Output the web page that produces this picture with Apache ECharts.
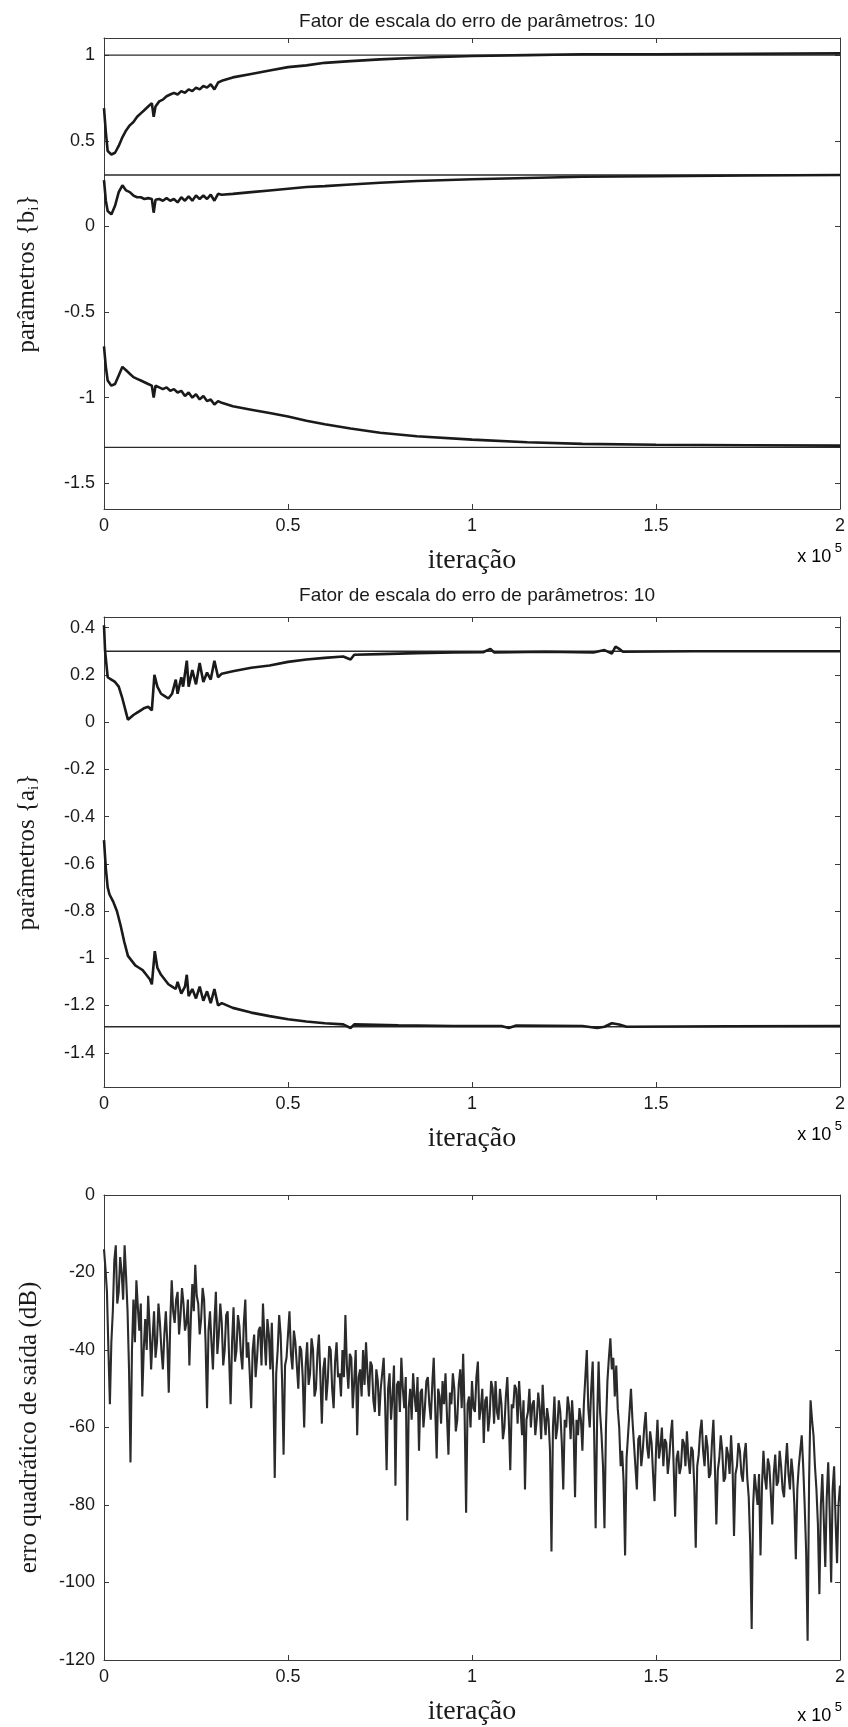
<!DOCTYPE html>
<html>
<head>
<meta charset="utf-8">
<script src="https://cdn.jsdelivr.net/npm/echarts@6/dist/echarts.min.js"></script>
<style>
  html, body { margin: 0; padding: 0; background: #ffffff; }
  #chart { width: 848px; height: 1727px; }
</style>
</head>
<body>
<div id="chart"></div>
<script>
// ---- numerator parameters {b_i} ----
const bIter = [0, 500, 1000, 2000, 3000, 4000, 5000, 6000, 7000, 8000, 9000, 10000, 11000, 12000, 13000, 13500,
  14000, 15000, 16000, 17000, 18000, 19000, 20000, 21000, 22000, 23000, 24000, 25000, 26000, 27000, 28000, 29000,
  30000, 31000, 32000, 35000, 40000, 45000, 50000, 55000, 60000, 67000, 75000, 85000, 100000, 115000, 130000,
  150000, 175000, 200000];
const b0 = [0.69, 0.55, 0.44, 0.42, 0.43, 0.47, 0.52, 0.56, 0.59, 0.61, 0.64, 0.66, 0.68, 0.70, 0.72, 0.64,
  0.70, 0.73, 0.74, 0.76, 0.77, 0.78, 0.77, 0.79, 0.78, 0.80, 0.79, 0.81, 0.80, 0.82, 0.81, 0.83,
  0.80, 0.84, 0.85, 0.87, 0.89, 0.91, 0.93, 0.94, 0.955, 0.965, 0.975, 0.985, 0.995, 1.0, 1.005,
  1.005, 1.008, 1.01];
const b1 = [0.27, 0.15, 0.09, 0.07, 0.12, 0.20, 0.24, 0.21, 0.20, 0.18, 0.17, 0.17, 0.16, 0.165, 0.16, 0.08,
  0.155, 0.16, 0.15, 0.165, 0.15, 0.16, 0.14, 0.17, 0.15, 0.175, 0.15, 0.18, 0.16, 0.18, 0.16, 0.185,
  0.15, 0.19, 0.185, 0.19, 0.20, 0.21, 0.22, 0.23, 0.235, 0.245, 0.255, 0.265, 0.275, 0.283, 0.29,
  0.293, 0.297, 0.30];
const b2 = [-0.70, -0.82, -0.90, -0.93, -0.92, -0.87, -0.82, -0.84, -0.86, -0.88, -0.89, -0.90, -0.91, -0.92, -0.93, -1.00,
  -0.93, -0.94, -0.95, -0.94, -0.96, -0.95, -0.97, -0.96, -0.99, -0.97, -1.00, -0.98, -1.01, -0.99, -1.02, -1.01,
  -1.04, -1.02, -1.03, -1.05, -1.07, -1.09, -1.11, -1.135, -1.155, -1.18, -1.205, -1.225, -1.245, -1.26, -1.27,
  -1.275, -1.278, -1.28];
const bTrue = [1.0, 0.3, -1.29];
const bTicks = [-1.5, -1, -0.5, 0, 0.5, 1];

// ---- denominator parameters {a_i} ----
const a0Iter = [0, 300, 1000, 2000, 3000, 4000, 5000, 6000, 6500, 7000, 8000, 9000, 10000, 11000, 12000, 13000,
  13700, 14500, 15500, 16500, 17500, 18500, 19500, 20000, 21000, 21500, 22500, 23000, 24000, 25000, 26000, 27000,
  28000, 29000, 30000, 31000, 32000, 35000, 40000, 45000, 50000, 55000, 60000, 65000, 67000, 68000, 75000, 85000,
  95000, 103000, 105000, 106000, 120000, 133000, 136000, 138000, 139000, 140000, 141000, 160000, 180000, 200000];
const a0 = [0.41, 0.30, 0.19, 0.18, 0.17, 0.15, 0.10, 0.04, 0.01, 0.015, 0.03, 0.04, 0.05, 0.06, 0.065, 0.05,
  0.20, 0.15, 0.12, 0.11, 0.10, 0.12, 0.18, 0.12, 0.19, 0.15, 0.26, 0.15, 0.22, 0.16, 0.25, 0.17,
  0.21, 0.18, 0.26, 0.19, 0.205, 0.215, 0.23, 0.24, 0.255, 0.265, 0.272, 0.278, 0.265, 0.285, 0.288, 0.292,
  0.295, 0.296, 0.31, 0.295, 0.298, 0.295, 0.305, 0.29, 0.32, 0.31, 0.298, 0.30, 0.30, 0.30];
const a1Iter = [0, 500, 1000, 1500, 2500, 3500, 4500, 5500, 6500, 7500, 8500, 9500, 10500, 11500, 12500, 13000,
  13800, 14500, 15500, 16500, 17500, 18500, 19500, 20000, 21000, 22000, 22500, 23000, 24000, 25000, 26000, 27000,
  28000, 29000, 30000, 31000, 32000, 35000, 40000, 45000, 50000, 55000, 60000, 65000, 67000, 68000, 80000, 95000,
  108000, 110000, 112000, 130000, 134000, 136000, 138000, 140000, 142000, 170000, 200000];
const a1 = [-0.50, -0.62, -0.70, -0.73, -0.76, -0.80, -0.86, -0.93, -0.99, -1.01, -1.03, -1.04, -1.05, -1.07, -1.09, -1.11,
  -0.97, -1.04, -1.07, -1.09, -1.11, -1.12, -1.13, -1.10, -1.15, -1.12, -1.07, -1.16, -1.13, -1.17, -1.12, -1.18,
  -1.14, -1.19, -1.13, -1.20, -1.19, -1.21, -1.23, -1.245, -1.258, -1.268, -1.275, -1.28, -1.295, -1.28, -1.284, -1.287,
  -1.287, -1.295, -1.285, -1.287, -1.295, -1.29, -1.275, -1.28, -1.29, -1.288, -1.287];
const aTrue = [0.3, -1.29];
const aTicks = [-1.4, -1.2, -1, -0.8, -0.6, -0.4, -0.2, 0, 0.2, 0.4];

// ---- output squared error (dB), one sample every 400 iterations ----
const errStep = 400;
const errDb = [
  -14, -19, -25, -40, -54, -38, -30, -17, -13, -28, -25, -16, -20, -27, -13, -21, -30, -45, -69, -40,
  -27, -38, -22, -29, -35, -28, -52, -40, -32, -40, -26, -34, -45, -37, -30, -42, -38, -28, -33, -40,
  -45, -36, -30, -38, -51, -33, -22, -30, -33, -27, -25, -36, -31, -24, -28, -35, -33, -27, -44, -32,
  -23, -30, -18, -26, -28, -36, -32, -24, -27, -38, -55, -35, -30, -38, -45, -33, -25, -41, -36, -28,
  -33, -44, -40, -31, -30, -42, -54, -38, -29, -43, -40, -31, -34, -41, -45, -33, -27, -42, -38, -46,
  -55, -40, -36, -47, -42, -35, -34, -44, -28, -37, -44, -32, -36, -45, -33, -48, -73, -46, -40, -31,
  -36, -48, -67, -44, -42, -36, -30, -41, -45, -35, -38, -44, -50, -39, -40, -47, -60, -44, -38, -49,
  -46, -37, -40, -52, -50, -41, -36, -47, -59, -45, -42, -53, -48, -39, -40, -50, -55, -43, -38, -47,
  -46, -52, -40, -47, -31, -44, -50, -41, -42, -55, -48, -40, -62, -47, -45, -52, -40, -49, -38, -46,
  -52, -43, -44, -53, -56, -45, -48, -57, -50, -46, -42, -54, -71, -50, -46, -58, -52, -44, -75, -49,
  -48, -56, -42, -50, -55, -47, -84, -55, -50, -58, -46, -52, -56, -47, -66, -51, -50, -60, -55, -48,
  -47, -54, -58, -49, -42, -55, -68, -50, -52, -59, -48, -54, -46, -57, -67, -51, -54, -46, -50, -61,
  -58, -49, -45, -55, -41, -57, -82, -54, -52, -60, -48, -55, -56, -47, -43, -58, -55, -50, -64, -53,
  -52, -61, -57, -48, -50, -59, -48, -56, -58, -50, -54, -63, -60, -52, -47, -58, -71, -54, -55, -49,
  -50, -59, -48, -55, -62, -53, -76, -58, -56, -50, -60, -54, -53, -62, -58, -51, -55, -63, -49, -57,
  -62, -55, -58, -66, -92, -60, -52, -63, -60, -53, -56, -64, -76, -58, -60, -52, -55, -63, -53, -60,
  -78, -58, -62, -55, -58, -66, -54, -47, -40, -55, -60, -50, -43, -62, -86, -58, -43, -56, -62, -70,
  -86, -60, -48, -42, -37, -45, -42, -52, -44, -55, -60, -70, -66, -74, -93, -68, -62, -56, -50, -58,
  -64, -70, -76, -63, -62, -70, -66, -60, -56, -65, -68, -61, -64, -72, -79, -66, -58, -68, -65, -60,
  -70, -63, -64, -72, -68, -62, -58, -70, -83, -68, -66, -72, -70, -63, -64, -70, -61, -68, -72, -65,
  -66, -75, -91, -70, -67, -61, -58, -66, -70, -62, -65, -73, -72, -64, -58, -70, -85, -71, -68, -62,
  -66, -74, -73, -65, -67, -72, -62, -70, -88, -72, -70, -64, -66, -72, -74, -67, -64, -73, -78, -90,
  -112, -80, -72, -76, -80, -72, -93, -75, -66, -73, -76, -68, -70, -77, -85, -72, -67, -75, -74, -66,
  -70, -76, -78, -70, -64, -72, -76, -68, -72, -80, -94, -76, -70, -66, -62, -70, -80, -92, -115, -74,
  -53, -58, -62, -70, -76, -85, -103, -80, -72, -84, -96, -78, -69, -82, -100, -76, -70, -84, -95, -80,
  -75
];

// shared axis settings
const xMax = 200000;
const xTickStep = 50000;

const SANS = "'Liberation Sans', Arial, Helvetica, sans-serif";
const SERIF = "'Liberation Serif', 'Times New Roman', Times, serif";
const INK = '#1a1a1a';
const FRAME = '#3a3a3a';

const grids = [
  { left: 104, width: 737, top: 38, height: 471 },
  { left: 104, width: 737, top: 617, height: 470 },
  { left: 104, width: 737, top: 1195, height: 473 }
];

function pairs(xs, ys) { return xs.map((x, i) => [x, ys[i]]); }
function flat(v) { return [[0, v], [xMax, v]]; }
function fmt(v) { return String(Math.round(v * 100) / 100); }

function xAxes(gi) {
  const common = {
    type: 'value', gridIndex: gi, min: 0, max: xMax, interval: xTickStep,
    splitLine: { show: false },
    axisLine: { show: true, onZero: false, lineStyle: { color: FRAME, width: 1 } },
    axisTick: { show: true, inside: true, length: 5, lineStyle: { color: FRAME } }
  };
  return [
    Object.assign({}, common, {
      position: 'bottom',
      axisLabel: { show: true, margin: 8, fontFamily: SANS, fontSize: 18, color: INK,
        formatter: v => fmt(v / 100000) },
      name: 'iteração', nameLocation: 'middle', nameGap: 38,
      nameTextStyle: { fontFamily: SERIF, fontSize: 28, color: INK }
    }),
    Object.assign({}, common, { position: 'top', axisLabel: { show: false } })
  ];
}

function yAxes(gi, range, ticks, name, nameRich) {
  const common = {
    type: 'value', gridIndex: gi, min: range[0], max: range[1],
    splitLine: { show: false },
    axisLine: { show: true, onZero: false, lineStyle: { color: FRAME, width: 1 } },
    axisTick: { show: true, inside: true, length: 5, lineStyle: { color: FRAME } }
  };
  if (ticks) {
    common.axisTick.customValues = ticks;
  } else {
    common.interval = 20;
  }
  const left = Object.assign({}, common, {
    position: 'left',
    axisLabel: { show: true, margin: 9, fontFamily: SANS, fontSize: 18, color: INK, formatter: fmt },
    name: name, nameLocation: 'middle', nameRotate: 90, nameGap: 62,
    nameTextStyle: Object.assign({ fontFamily: SERIF, fontSize: 25, color: INK }, nameRich ? { rich: nameRich } : {})
  });
  if (ticks) left.axisLabel.customValues = ticks;
  const right = Object.assign({}, common, { position: 'right', axisLabel: { show: false } });
  return [left, right];
}

const subRich = {
  n: { fontFamily: SERIF, fontSize: 25, color: INK, lineHeight: 30 },
  s: { fontFamily: SERIF, fontSize: 15, color: INK, lineHeight: 14, verticalAlign: 'bottom' }
};

const xAll = [].concat(xAxes(0), xAxes(1), xAxes(2));
const yAll = [].concat(
  yAxes(0, [-1.65, 1.1], bTicks, '{n|parâmetros {b}{s|i}{n|}}', subRich),
  yAxes(1, [-1.545, 0.445], aTicks, '{n|parâmetros {a}{s|i}{n|}}', subRich),
  yAxes(2, [-120, 0], null, 'erro quadrático de saída (dB)', null)
);

function curve(data, xi, yi, width, color) {
  return { type: 'line', xAxisIndex: xi, yAxisIndex: yi, data: data, showSymbol: false, symbol: 'none',
    animation: false, silent: true, lineStyle: { color: color || INK, width: width } };
}

const series = [
  curve(flat(bTrue[0]), 0, 0, 1.4, '#2a2a2a'),
  curve(flat(bTrue[1]), 0, 0, 1.4, '#2a2a2a'),
  curve(flat(bTrue[2]), 0, 0, 1.4, '#2a2a2a'),
  curve(pairs(bIter, b0), 0, 0, 2.6),
  curve(pairs(bIter, b1), 0, 0, 2.6),
  curve(pairs(bIter, b2), 0, 0, 2.6),
  curve(flat(aTrue[0]), 2, 2, 1.4, '#2a2a2a'),
  curve(flat(aTrue[1]), 2, 2, 1.4, '#2a2a2a'),
  curve(pairs(a0Iter, a0), 2, 2, 2.6),
  curve(pairs(a1Iter, a1), 2, 2, 2.6),
  curve(errDb.map((v, k) => [k * errStep, v]), 4, 4, 2.1, '#2b2b2b')
];

const sciRich = {
  a: { fontFamily: SANS, fontSize: 18, color: INK, lineHeight: 24, verticalAlign: 'bottom' },
  p: { fontFamily: SANS, fontSize: 13, color: INK, lineHeight: 24, verticalAlign: 'top' }
};
function sciLabel(gi) {
  const g = grids[gi];
  return { type: 'text', right: 6, top: g.top + g.height + 33,
    style: { text: '{a|x 10}{p| 5}', rich: sciRich } };
}

const titleText = 'Fator de escala do erro de parâmetros: 10';

const option = {
  backgroundColor: '#ffffff',
  animation: false,
  title: [
    { text: titleText, left: 472, top: 7, textAlign: 'center',
      textStyle: { fontFamily: SANS, fontSize: 19, fontWeight: 'normal', color: INK } },
    { text: titleText, left: 472, top: 581, textAlign: 'center',
      textStyle: { fontFamily: SANS, fontSize: 19, fontWeight: 'normal', color: INK } }
  ],
  grid: grids,
  xAxis: xAll,
  yAxis: yAll,
  series: series,
  graphic: [sciLabel(0), sciLabel(1), sciLabel(2)]
};

const chart = echarts.init(document.getElementById('chart'), null, { renderer: 'canvas' });
chart.setOption(option);
</script>
</body>
</html>
